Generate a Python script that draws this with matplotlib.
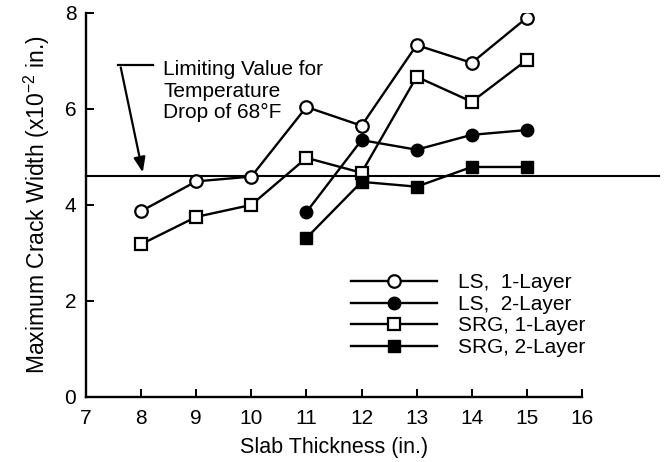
import matplotlib
matplotlib.use("Agg")
import matplotlib.pyplot as plt

plt.rcParams['font.family'] = ['Liberation Sans', 'DejaVu Sans']
plt.rcParams['mathtext.fontset'] = 'custom'
plt.rcParams['mathtext.rm'] = 'Liberation Sans'
plt.rcParams['mathtext.it'] = 'Liberation Sans'

ls1_x = [8, 9, 10, 11, 12, 13, 14, 15]
ls1_y = [3.87, 4.49, 4.59, 6.04, 5.65, 7.33, 6.96, 7.90]
ls2_x = [11, 12, 13, 14, 15]
ls2_y = [3.85, 5.35, 5.15, 5.46, 5.56]
srg1_x = [8, 9, 10, 11, 12, 13, 14, 15]
srg1_y = [3.18, 3.75, 4.00, 4.98, 4.67, 6.67, 6.15, 7.02]
srg2_x = [11, 12, 13, 14, 15]
srg2_y = [3.31, 4.48, 4.38, 4.79, 4.79]
limit_value = 4.6
labels = ["LS,  1-Layer", "LS,  2-Layer", "SRG, 1-Layer", "SRG, 2-Layer"]

fig = plt.figure(figsize=(6.72, 4.62), dpi=100)
ax = fig.add_axes([0.128, 0.141, 0.738, 0.831])

lw = 1.7
ms = 9
ax.plot(ls1_x, ls1_y, '-o', color='black', mfc='white', mec='black', mew=1.6, lw=lw, ms=ms, label=labels[0], zorder=3)
ax.plot(ls2_x, ls2_y, '-o', color='black', mfc='black', mec='black', lw=lw, ms=ms, label=labels[1], zorder=3)
ax.plot(srg1_x, srg1_y, '-s', color='black', mfc='white', mec='black', mew=1.6, lw=lw, ms=ms, label=labels[2], zorder=3)
ax.plot(srg2_x, srg2_y, '-s', color='black', mfc='black', mec='black', lw=lw, ms=ms, label=labels[3], zorder=3)

ax.plot([7, 17.4], [limit_value, limit_value], color='black', lw=1.5, clip_on=False, zorder=2)

ax.set_xlim(7, 16)
ax.set_ylim(0, 8)
ax.set_xticks(range(7, 17))
ax.set_yticks([0, 2, 4, 6, 8])
ax.spines['top'].set_visible(False)
ax.spines['right'].set_visible(False)
for s in ['left', 'bottom']:
    ax.spines[s].set_linewidth(1.7)
ax.tick_params(direction='in', length=6, width=1.4, labelsize=15)
ax.tick_params(axis='x', pad=9)
ax.tick_params(axis='y', pad=7)

ax.set_xlabel('Slab Thickness (in.)', fontsize=15.5, labelpad=6)
ax.set_ylabel('Maximum Crack Width (x10$^{-2}$ in.)', fontsize=16.5, labelpad=9)

ax.text(8.4, 7.02, 'Limiting Value for\nTemperature\nDrop of 68\u00b0F', fontsize=15,
        va='top', ha='left', linespacing=1.18)
ax.plot([7.58, 8.22], [6.92, 6.92], color='black', lw=1.6)
ax.annotate('', xy=(8.04, 4.62), xytext=(7.62, 6.92),
            arrowprops=dict(arrowstyle='-|>,head_length=0.9,head_width=0.35', color='black', lw=1.6))

leg = ax.legend(loc='center left', bbox_to_anchor=(0.535, 0.213), frameon=False, fontsize=15,
                handlelength=4.1, handletextpad=1.0, labelspacing=0.12, borderaxespad=0,
                borderpad=0)

fig.savefig('out.png', dpi=100)
